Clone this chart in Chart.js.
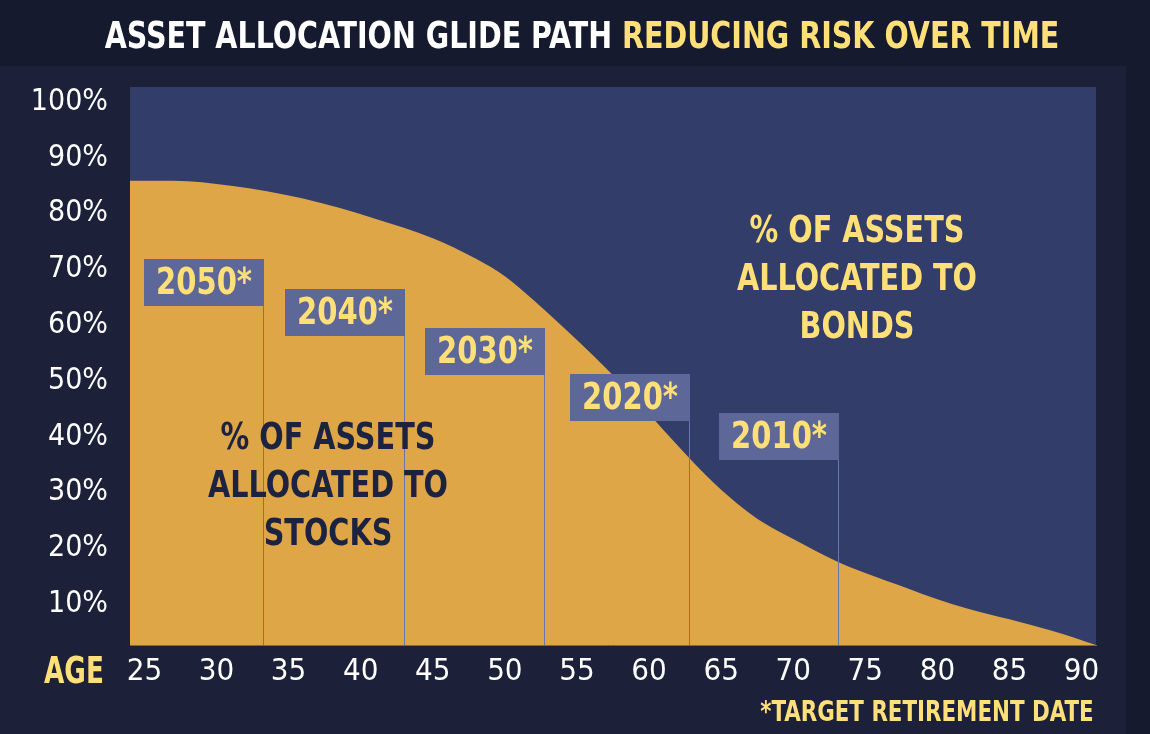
<!DOCTYPE html>
<html lang="en">
<head>
  <meta charset="UTF-8">
  <title>Asset Allocation Glide Path</title>
  <style>
    body {
      margin: 0;
      width: 1150px;
      height: 734px;
      overflow: hidden;
      background: #1c2039;
      font-family: "Liberation Sans Narrow", "DejaVu Sans Condensed", "Roboto Condensed", sans-serif;
      position: relative;
    }
    .header {
      position: absolute; left: 0; top: 0; width: 1150px; height: 66px;
      background: #151a2e;
    }
    .strip {
      position: absolute; left: 1126px; top: 66px; width: 24px; height: 668px;
      background: #151a2e;
    }
    canvas { position: absolute; left: 0; top: 0; }
    .txt { position: absolute; font-weight: 700; white-space: nowrap; }
    .title {
      left: 0; width: 1164px; top: 12px; text-align: center;
      font-size: 38px; line-height: 46px; color: #fff;
      transform: scaleX(0.835); transform-origin: 582px 0;
    }
    .title span { color: #ffdf78; }
    .region {
      font-size: 38px; line-height: 48px; text-align: center; width: 400px;
      transform: scaleX(0.84); transform-origin: 200px 0;
    }
    .bonds { left: 657px; top: 205px; color: #ffdf78; }
    .stocks { left: 128px; top: 412px; color: #1c2340; }
    .age {
      left: 44px; top: 650px; font-size: 37px; line-height: 42px; color: #ffdf78;
      transform: scaleX(0.79); transform-origin: 0 0;
    }
    .note {
      right: 56px; top: 694px; font-size: 29px; line-height: 34px; color: #ffdf78;
      transform: scaleX(0.82); transform-origin: 100% 0;
    }
  </style>
  <script src="https://cdn.jsdelivr.net/npm/chart.js"></script>
</head>
<body>
  <div class="header"></div>
  <div class="strip"></div>
  <canvas id="glide" width="1150" height="734"></canvas>
  <div class="txt title">ASSET ALLOCATION GLIDE PATH <span>REDUCING RISK OVER TIME</span></div>
  <div class="txt region bonds">% OF ASSETS<br>ALLOCATED TO<br>BONDS</div>
  <div class="txt region stocks">% OF ASSETS<br>ALLOCATED TO<br>STOCKS</div>
  <div class="txt age">AGE</div>
  <div class="txt note">*TARGET RETIREMENT DATE</div>
  <script>
    // stock share of the portfolio by age
    const ages = [24, 27, 31, 36, 41, 45, 48, 50, 52, 54, 56, 58, 60, 62, 64, 66, 68, 70, 73, 75, 78, 80, 82, 85, 88, 91];
    const stockPct = [83.2, 83.2, 82.3, 80.0, 76.4, 72.9, 69.2, 66.1, 61.8, 57.1, 52.2, 47.0, 41.4, 35.7, 30.3, 25.6, 21.8, 19.0, 15.0, 12.9, 10.1, 8.2, 6.6, 4.6, 2.5, 0];
    const xTicks = [25, 30, 35, 40, 45, 50, 55, 60, 65, 70, 75, 80, 85, 90];
    const yTicks = [10, 20, 30, 40, 50, 60, 70, 80, 90, 100];

    // target date funds: label and the age where its marker line sits
    const targetLabels = ['2050*', '2040*', '2030*', '2020*', '2010*'];
    const targetAges = [33.2, 43.0, 52.7, 62.8, 73.1];
    const targetBoxTop = [69.2, 63.8, 56.8, 48.6, 41.6];

    const FONT = '"Liberation Sans Narrow", "DejaVu Sans Condensed", "Roboto Condensed", sans-serif';
    const GOLD = '#dea646';
    const NAVY = '#333d69';
    const BOX = '#5e6898';
    const YELLOW = '#ffdf78';
    const BOX_W = 120, BOX_H = 47;

    const plotBg = {
      id: 'plotBg',
      beforeDraw(chart) {
        const { ctx, chartArea: a } = chart;
        ctx.save();
        ctx.fillStyle = NAVY;
        ctx.fillRect(a.left, a.top, a.right - a.left, a.bottom - a.top);
        ctx.restore();
      }
    };

    const targets = {
      id: 'targets',
      afterDatasetsDraw(chart) {
        const { ctx, chartArea: a, scales } = chart;
        targetLabels.forEach((lab, i) => {
          const x = Math.round(scales.x.getPixelForValue(targetAges[i]));
          const top = Math.round(scales.y.getPixelForValue(targetBoxTop[i]));
          ctx.save();
          ctx.fillStyle = '#6874b0';
          ctx.fillRect(x, top + BOX_H, 1, a.bottom - top - BOX_H);
          ctx.fillStyle = BOX;
          ctx.fillRect(x - BOX_W + 1, top, BOX_W, BOX_H);
          // squeeze the label a little, the original face is narrower
          ctx.translate(x - BOX_W / 2 + 1, top + BOX_H / 2 + 2);
          ctx.scale(0.85, 1);
          ctx.fillStyle = YELLOW;
          ctx.font = 'bold 38px ' + FONT;
          ctx.textAlign = 'center';
          ctx.textBaseline = 'middle';
          ctx.fillText(lab, 0, 0);
          ctx.restore();
        });
      }
    };

    new Chart(document.getElementById('glide').getContext('2d'), {
      type: 'line',
      data: {
        datasets: [{
          label: 'Stocks',
          data: ages.map((a, i) => ({ x: a, y: stockPct[i] })),
          fill: 'origin',
          backgroundColor: GOLD,
          borderWidth: 0,
          pointRadius: 0,
          cubicInterpolationMode: 'monotone'
        }]
      },
      options: {
        responsive: false,
        animation: false,
        layout: { padding: { top: 87, right: 54, bottom: 0, left: 0 } },
        plugins: { legend: { display: false }, tooltip: { enabled: false } },
        scales: {
          x: {
            type: 'linear', min: 24, max: 91,
            grid: { display: false, drawTicks: false },
            border: { display: true, color: '#5a68a6', width: 1 },
            ticks: { color: '#fff', font: { family: FONT, size: 31 }, padding: 8, autoSkip: false, maxRotation: 0 },
            afterBuildTicks: s => { s.ticks = xTicks.map(v => ({ value: v })); },
            afterFit: s => { s.height = 89; }
          },
          y: {
            min: 0, max: 100,
            grid: { display: false, drawTicks: false },
            border: { display: false },
            ticks: { color: '#fff', font: { family: FONT, size: 30 }, padding: 22, labelOffset: 15, callback: v => v + '%' },
            afterBuildTicks: s => { s.ticks = yTicks.map(v => ({ value: v })); },
            afterFit: s => { s.width = 130; }
          }
        }
      },
      plugins: [plotBg, targets]
    });
  </script>
</body>
</html>
